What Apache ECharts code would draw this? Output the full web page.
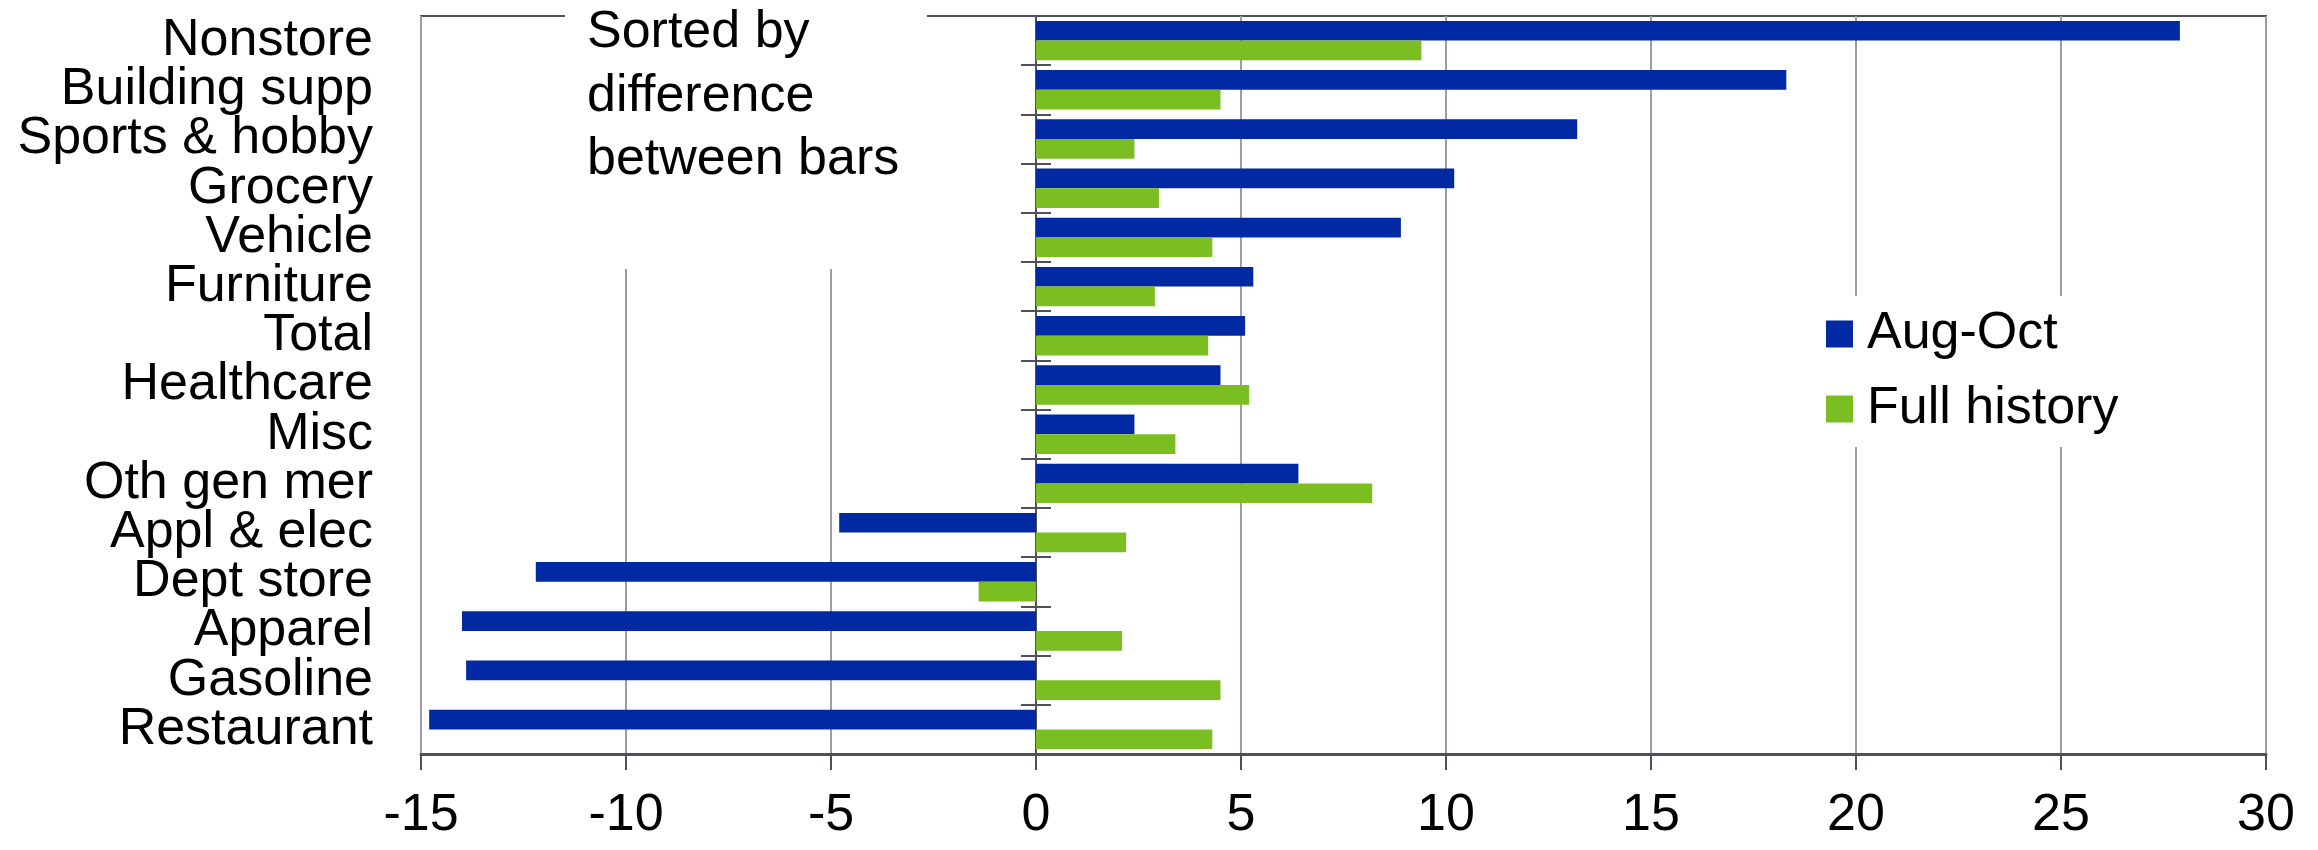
<!DOCTYPE html>
<html>
<head>
<meta charset="utf-8">
<script src="https://cdn.jsdelivr.net/npm/echarts@6/dist/echarts.min.js"></script>
<style>
  html, body { margin: 0; padding: 0; background: #fff; }
  #chart { width: 2318px; height: 850px; }
</style>
</head>
<body>
<div id="chart"></div>
<script>
// categories, top to bottom
var categories = ['Nonstore', 'Building supp', 'Sports & hobby', 'Grocery', 'Vehicle',
  'Furniture', 'Total', 'Healthcare', 'Misc', 'Oth gen mer', 'Appl & elec',
  'Dept store', 'Apparel', 'Gasoline', 'Restaurant'];
// Aug-Oct
var augOct = [27.9, 18.3, 13.2, 10.2, 8.9, 5.3, 5.1, 4.5, 2.4, 6.4, -4.8, -12.2, -14.0, -13.9, -14.8];
// Full history
var fullHistory = [9.4, 4.5, 2.4, 3.0, 4.3, 2.9, 4.2, 5.2, 3.4, 8.2, 2.2, -1.4, 2.1, 4.5, 4.3];
var xTicks = [-15, 30, 5]; // min, max, step
var noteText = 'Sorted by\ndifference\nbetween bars';

var FONT = 'Liberation Sans, Arial, sans-serif';
var AXIS_DARK = '#4e5258';

var chart = echarts.init(document.getElementById('chart'));

// category axis pinned to x = 0, just for the line and the ticks crossing it
var zeroAxis = function (inside) {
  return {
    type: 'category',
    data: categories,
    inverse: true,
    axisLine: { show: !inside, onZero: true, onZeroAxisIndex: 0, lineStyle: { color: AXIS_DARK, width: 2 } },
    axisTick: { show: true, inside: inside, length: 15, lineStyle: { color: AXIS_DARK, width: 2 } },
    axisLabel: { show: false },
    splitLine: { show: false }
  };
};

var option = {
  animation: false,
  backgroundColor: '#ffffff',
  textStyle: { fontFamily: FONT },
  grid: {
    left: 421, right: 52, top: 16, bottom: 96,
    show: true, borderColor: AXIS_DARK, borderWidth: 2, backgroundColor: 'transparent'
  },
  legend: {
    z: 20,
    orient: 'vertical',
    left: 1826, top: 308,
    padding: 0,
    itemWidth: 27, itemHeight: 27, itemGap: 23,
    icon: 'rect',
    textStyle: { fontSize: 52, color: '#000', fontFamily: FONT, padding: [0, 0, 0, 9] },
    data: ['Aug-Oct', 'Full history']
  },
  xAxis: {
    type: 'value',
    min: xTicks[0], max: xTicks[1], interval: xTicks[2],
    axisLine: { show: true, onZero: false, lineStyle: { color: AXIS_DARK, width: 3 } },
    axisTick: { show: true, length: 16, lineStyle: { color: AXIS_DARK, width: 2 } },
    axisLabel: { fontSize: 52, color: '#000', margin: 36, fontFamily: FONT },
    splitLine: { show: true, lineStyle: { color: '#9b9ea4', width: 2 } }
  },
  yAxis: [{
    type: 'category',
    data: categories,
    inverse: true,
    axisLine: { show: false, onZero: false },
    axisTick: { show: false },
    axisLabel: { interval: 0, fontSize: 52, color: '#000', margin: 48, fontFamily: FONT },
    splitLine: { show: false }
  }, zeroAxis(false), zeroAxis(true)],
  graphic: [{
    type: 'rect',
    z: 3,
    shape: { x: 565, y: 0, width: 362, height: 269 },
    style: { fill: '#ffffff' }
  }, {
    type: 'rect',
    z: 3,
    shape: { x: 1812, y: 296, width: 446, height: 151 },
    style: { fill: '#ffffff' }
  }, {
    type: 'text',
    z: 5,
    x: 587, y: 1,
    style: {
      text: noteText,
      font: '52px ' + FONT,
      lineHeight: 63.5,
      fill: '#000'
    }
  }],
  series: [{
    name: 'Aug-Oct',
    type: 'bar',
    data: augOct,
    barGap: '0%',
    barCategoryGap: '20%',
    itemStyle: { color: '#0029a3' }
  }, {
    name: 'Full history',
    type: 'bar',
    data: fullHistory,
    barGap: '0%',
    barCategoryGap: '20%',
    itemStyle: { color: '#7bbe21' }
  }]
};

chart.setOption(option);
</script>
</body>
</html>
